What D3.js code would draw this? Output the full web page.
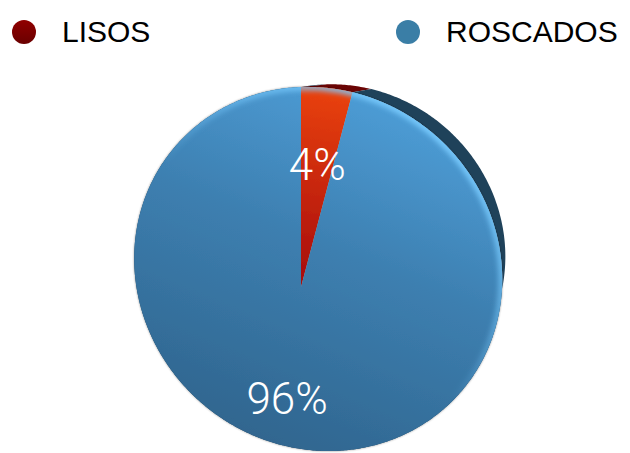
<!DOCTYPE html>
<html>
<head>
<meta charset="utf-8">
<script src="https://cdn.jsdelivr.net/npm/d3@7"></script>
<style>
  html, body { margin: 0; padding: 0; background: #fff; }
  svg { display: block; }
</style>
</head>
<body>
<svg id="chart" width="630" height="453"></svg>
<script>
// Chart data
const categories = ["LISOS", "ROSCADOS"];
const values = [4, 96];
const valueLabels = ["4%", "96%"];

// Styling per category
const faceTop = ["#ea420f", "#4fa0da"];
const faceBottom = ["#a50b08", "#2f648d"];
const sideColors = ["#6a0404", "#1f425a"];
const legendColors = ["#7d0000", "#3a7ea6"];

const width = 630, height = 453;
const svg = d3.select("#chart");
const defs = svg.append("defs");

// Tilted-disc projection: disc coordinates (u, v) in the unit circle are
// mapped onto the screen with a perspective (homographic) transform.
const centre = [301, 287];
const scaleX = 181.4, scaleY = 179, shearY = 12;
const persp = [-0.093, 0.105];
function project(u, v) {
  const w = 1 + persp[0] * u + persp[1] * v;
  return [centre[0] + scaleX * u / w, centre[1] + (scaleY * v + shearY * u) / w];
}
// Back face of the disc: front face pulled toward the vanishing point
const vanish = [532, 62], depth = 0.895;
function projectBack(u, v) {
  const p = project(u, v);
  return [vanish[0] + depth * (p[0] - vanish[0]), vanish[1] + depth * (p[1] - vanish[1])];
}
const radius = d3.scaleLinear().domain([0, 1]).range([0, 1]);
function discPoint(angle, r, proj) {
  const rr = radius(r);
  return (proj || project)(rr * Math.sin(angle), -rr * Math.cos(angle));
}
function arcPoints(a0, a1, proj) {
  const n = Math.max(4, Math.ceil(Math.abs(a1 - a0) / 0.01));
  return d3.range(n + 1).map(i => discPoint(a0 + (a1 - a0) * i / n, 1, proj));
}

const pie = d3.pie().sort(null).value(d => d)(values);
const line = d3.line().curve(d3.curveLinear);

// Gradients
pie.forEach((s, i) => {
  const g = defs.append("linearGradient")
    .attr("id", "face" + i)
    .attr("gradientUnits", "userSpaceOnUse")
    .attr("x1", i === 0 ? 330 : 400).attr("y1", 88)
    .attr("x2", i === 0 ? 300 : 250).attr("y2", i === 0 ? 287 : 450);
  g.append("stop").attr("offset", 0).attr("stop-color", faceTop[i]);
  if (i === 1) g.append("stop").attr("offset", 0.45).attr("stop-color", "#3d7fb0");
  g.append("stop").attr("offset", 1).attr("stop-color", faceBottom[i]);
});
const rimGrad = defs.append("linearGradient")
  .attr("id", "rimGlow").attr("gradientUnits", "userSpaceOnUse")
  .attr("x1", 470).attr("y1", 130).attr("x2", 330).attr("y2", 300);
rimGrad.append("stop").attr("offset", 0).attr("stop-color", "#7accff").attr("stop-opacity", 1);
rimGrad.append("stop").attr("offset", 0.6).attr("stop-color", "#7accff").attr("stop-opacity", 0.45);
rimGrad.append("stop").attr("offset", 1).attr("stop-color", "#7accff").attr("stop-opacity", 0);

const legGrad = defs.append("linearGradient").attr("id", "leg0")
  .attr("x1", 0).attr("y1", 0).attr("x2", 0).attr("y2", 1);
legGrad.append("stop").attr("offset", 0).attr("stop-color", "#900000");
legGrad.append("stop").attr("offset", 1).attr("stop-color", "#6a0000");

defs.append("filter").attr("id", "soft").attr("x", -0.2).attr("y", -0.2).attr("width", 1.4).attr("height", 1.4)
  .append("feGaussianBlur").attr("stdDeviation", 2.4);
const shadow = defs.append("filter").attr("id", "shadow")
  .attr("x", -0.1).attr("y", -0.1).attr("width", 1.2).attr("height", 1.2);
shadow.append("feDropShadow").attr("dx", 0).attr("dy", 0)
  .attr("stdDeviation", 1.3).attr("flood-color", "#000").attr("flood-opacity", 0.45);

const outline = arcPoints(0, 2 * Math.PI);
defs.append("clipPath").attr("id", "faceClip")
  .append("path").attr("d", line(outline) + "Z");

// Disc side (thickness)
const side = svg.append("g");
pie.forEach((s, i) => {
  const front = arcPoints(s.startAngle, s.endAngle);
  const back = arcPoints(s.endAngle, s.startAngle, projectBack);
  side.append("path")
    .attr("d", line(front.concat(back)) + "Z")
    .attr("fill", sideColors[i]);
});

// Front face slices
const face = svg.append("g").attr("filter", "url(#shadow)");
pie.forEach((s, i) => {
  const pts = [project(0, 0)].concat(arcPoints(s.startAngle, s.endAngle));
  face.append("path")
    .attr("d", line(pts) + "Z")
    .attr("fill", `url(#face${i})`);
});

// Light catching the raised rim
svg.append("g").attr("clip-path", "url(#faceClip)")
  .append("path")
  .attr("d", line(outline) + "Z")
  .attr("fill", "none")
  .attr("stroke", "url(#rimGlow)")
  .attr("stroke-width", 8)
  .attr("filter", "url(#soft)");

// Value labels
pie.forEach((s, i) => {
  const mid = (s.startAngle + s.endAngle) / 2;
  const p = discPoint(mid, 0.66);
  svg.append("text")
    .attr("x", p[0]).attr("y", p[1])
    .attr("dy", "0.43em")
    .attr("text-anchor", "middle")
    .attr("font-family", "Roboto, 'Liberation Sans', sans-serif")
    .attr("font-weight", 300)
    .attr("font-size", 44)
    .attr("fill", "#fff")
    .text(valueLabels[i]);
});

// Legend
const legendX = d3.scalePoint().domain(categories).range([24, 408]);
const legend = svg.append("g");
categories.forEach((c, i) => {
  const x = legendX(c);
  legend.append("circle")
    .attr("cx", x).attr("cy", 32).attr("r", 12)
    .attr("fill", i === 0 ? "url(#leg0)" : legendColors[i]);
  legend.append("text")
    .attr("x", x + 38).attr("y", 41.5)
    .attr("font-family", "'Liberation Sans', Arial, Helvetica, sans-serif")
    .attr("font-size", 30)
    .attr("fill", "#000")
    .text(c);
});
</script>
</body>
</html>
